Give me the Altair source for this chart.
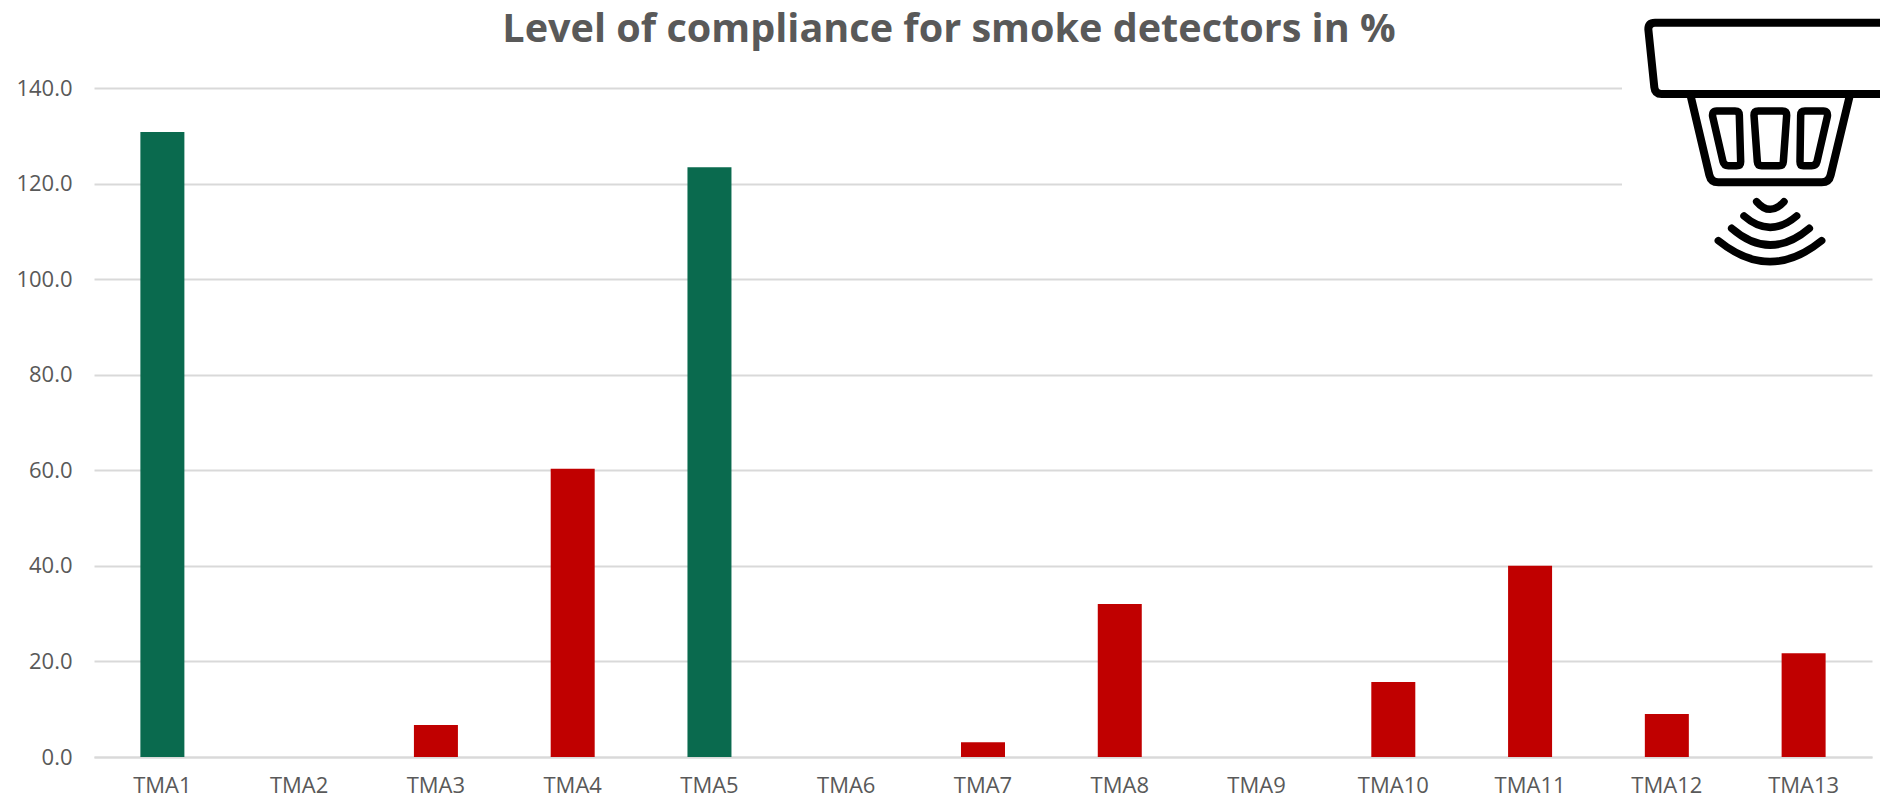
import re
import altair as alt
import pandas as pd

categories = ["TMA1", "TMA2", "TMA3", "TMA4", "TMA5", "TMA6", "TMA7", "TMA8", "TMA9", "TMA10", "TMA11", "TMA12", "TMA13"]
values = [130.8, 0, 6.7, 60.3, 123.4, 0, 3.1, 32.0, 0, 15.7, 40.0, 9.0, 21.7]
status = ["ok", "low", "low", "low", "ok", "low", "low", "low", "low", "low", "low", "low", "low"]
y_ticks = [0, 20, 40, 60, 80, 100, 120, 140]
title_text = "Level of compliance for smoke detectors in %"

FONT = "Open Sans"
GREY = "#595959"


def centred(path, cx=510, cy=300):
    nums = iter(range(10**6))
    return re.sub(r"-?\d+(?:\.\d+)?", lambda m: str(float(m.group()) - (cx if next(nums) % 2 == 0 else cy)), path)


ICON_BODY = centred(
    "M165 68 L855 68 Q875 68 875 88 L857 262 Q855 282 835 282 L185 282 Q165 282 163 262 L145 88 Q145 68 165 68 Z "
    "M273 292 L328 525 Q333 547 355 547 L665 547 Q687 547 692 525 L748 292"
)
ICON_DETAIL = centred(
    "M350 333 L405 333 Q418 333 418 346 L422 485 Q422 497 410 497 L385 497 Q372 497 369 485 L338 350 Q335 333 350 333 Z "
    "M475 333 L547 333 Q560 333 560 346 L550 485 Q549 497 537 497 L485 497 Q473 497 472 485 L462 346 Q462 333 475 333 Z "
    "M615 333 L670 333 Q685 333 682 350 L651 485 Q648 497 635 497 L610 497 Q600 497 600 485 L602 346 Q602 333 615 333 Z "
    "M470 605 Q510 651 552 605 M432 648 Q510 716 590 648 M395 685 Q510 785 628 685 M355 722 Q510 848 665 722"
)

df = pd.DataFrame({"tma": categories, "value": values, "status": status})

bars = alt.Chart(df).mark_bar(size=44).encode(
    x=alt.X(
        "tma:N",
        sort=categories,
        title=None,
        scale=alt.Scale(paddingInner=0, paddingOuter=0, align=0.5),
        axis=alt.Axis(
            labelAngle=0, labelFont=FONT, labelFontSize=22, labelColor=GREY, labelPadding=18,
            ticks=False, domain=True, domainColor="#D9D9D9", domainWidth=2, grid=False,
        ),
    ),
    y=alt.Y(
        "value:Q",
        title=None,
        scale=alt.Scale(domain=[0, 140], nice=False),
        axis=alt.Axis(
            values=y_ticks, format=".1f", labelFont=FONT, labelFontSize=22, labelColor=GREY, labelPadding=22,
            ticks=False, domain=False, grid=True, gridColor="#D9D9D9", gridWidth=2,
        ),
    ),
    color=alt.Color("status:N", scale=alt.Scale(domain=["ok", "low"], range=["#0A6A4E", "#C00000"]), legend=None),
)

anchor = pd.DataFrame({"a": [0]})

title_mark = alt.Chart(anchor).mark_text(
    text=title_text, font=FONT, fontSize=39.6, fontWeight="bold", color=GREY, align="center", baseline="alphabetic"
).encode(x=alt.value(855), y=alt.value(-46))

mask = alt.Chart(anchor).mark_rect(color="white").encode(
    x=alt.value(1528), x2=alt.value(1794), y=alt.value(-6), y2=alt.value(160)
)

icon_body = alt.Chart(anchor).mark_point(
    shape=ICON_BODY, size=4 / 9, filled=False, stroke="black", strokeWidth=8, opacity=1, strokeCap="round", strokeJoin="round", clip=False
).encode(x=alt.value(1676), y=alt.value(12))
icon_detail = alt.Chart(anchor).mark_point(
    shape=ICON_DETAIL, size=4 / 9, filled=False, stroke="black", strokeWidth=7.5, opacity=1, strokeCap="round", strokeJoin="round", clip=False
).encode(x=alt.value(1676), y=alt.value(12))

chart = (
    alt.layer(bars, mask, icon_body, icon_detail, title_mark)
    .properties(
        width=1778,
        height=669,
        padding={"left": 86, "top": 80, "right": 8, "bottom": 40},
        autosize=alt.AutoSizeParams(type="none"),
        background="white",
        usermeta={"embedOptions": {"defaultStyle": "svg{overflow:visible}"}},
    )
    .configure_view(stroke=None)
)

chart.save("out.html", embed_options={"renderer": "svg", "actions": False})
